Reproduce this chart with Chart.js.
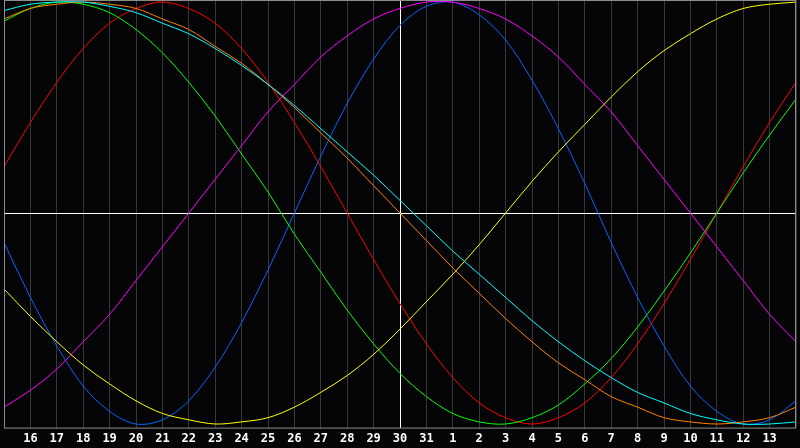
<!DOCTYPE html>
<html>
<head>
<meta charset="utf-8">
<script src="https://cdn.jsdelivr.net/npm/chart.js@4/dist/chart.umd.min.js"></script>
<style>
    body { margin: 0; background: #050508; }
    #wrap { width: 800px; height: 448px; }
</style>
</head>
<body>
<div id="wrap"><canvas id="bio" width="800" height="448"></canvas></div>
<script>
// Days shown on the chart (today = 30)
const days = [15, 16, 17, 18, 19, 20, 21, 22, 23, 24, 25, 26, 27, 28, 29, 30, 31,
    1, 2, 3, 4, 5, 6, 7, 8, 9, 10, 11, 12, 13, 14];
const today = 30;

// Cycle values, one per day (-1 .. 1)
const physical = [-0.14, -0.40, -0.63, -0.82, -0.94, -1.00, -0.98, -0.89, -0.73, -0.52, -0.27,
    0.00, 0.27, 0.52, 0.73, 0.89, 0.98, 1.00, 0.94, 0.82, 0.63, 0.40, 0.14,
    -0.14, -0.40, -0.63, -0.82, -0.94, -1.00, -0.98, -0.89];
const emotional = [0.22, 0.43, 0.62, 0.78, 0.90, 0.97, 1.00, 0.97, 0.90, 0.78, 0.62,
    0.43, 0.22, 0.00, -0.22, -0.43, -0.62, -0.78, -0.90, -0.97, -1.00, -0.97, -0.90,
    -0.78, -0.62, -0.43, -0.22, 0.00, 0.22, 0.43, 0.62];
const intellectual = [0.91, 0.97, 1.00, 0.99, 0.95, 0.87, 0.76, 0.62, 0.46, 0.28, 0.10,
    -0.10, -0.28, -0.46, -0.62, -0.76, -0.87, -0.95, -0.99, -1.00, -0.97, -0.91, -0.81,
    -0.69, -0.54, -0.37, -0.19, 0.00, 0.19, 0.37, 0.54];
const intuitive = [-0.92, -0.84, -0.74, -0.61, -0.48, -0.32, -0.16, 0.00, 0.16, 0.32, 0.48,
    0.61, 0.74, 0.84, 0.92, 0.97, 1.00, 1.00, 0.97, 0.92, 0.84, 0.74, 0.61,
    0.48, 0.32, 0.16, 0.00, -0.16, -0.32, -0.48, -0.61];
const aesthetic = [-0.36, -0.49, -0.61, -0.72, -0.81, -0.89, -0.95, -0.98, -1.00, -0.99, -0.97,
    -0.92, -0.85, -0.77, -0.67, -0.55, -0.42, -0.29, -0.15, 0.00, 0.15, 0.29, 0.42,
    0.55, 0.67, 0.77, 0.85, 0.92, 0.97, 0.99, 1.00];
const awareness = [0.92, 0.97, 0.99, 1.00, 0.99, 0.97, 0.92, 0.87, 0.79, 0.71, 0.61,
    0.50, 0.38, 0.26, 0.13, 0.00, -0.13, -0.26, -0.38, -0.50, -0.61, -0.71, -0.79,
    -0.87, -0.92, -0.97, -0.99, -1.00, -0.99, -0.97, -0.92];
const spiritual = [0.96, 0.99, 1.00, 1.00, 0.98, 0.95, 0.90, 0.85, 0.78, 0.70, 0.61,
    0.51, 0.40, 0.29, 0.18, 0.06, -0.06, -0.18, -0.29, -0.40, -0.51, -0.61, -0.70,
    -0.78, -0.85, -0.90, -0.95, -0.98, -1.00, -1.00, -0.99];

const todayIndex = days.indexOf(today);

// zero line + frame around the plot
const framePlugin = {
    id: 'frame',
    beforeDatasetsDraw(chart) {
        const { ctx, chartArea, scales } = chart;
        const y0 = Math.round(scales.y.getPixelForValue(0)) + 0.5;
        ctx.save();
        ctx.strokeStyle = '#ffffff';
        ctx.lineWidth = 1;
        ctx.beginPath();
        ctx.moveTo(chartArea.left, y0);
        ctx.lineTo(chartArea.right, y0);
        ctx.stroke();
        ctx.restore();
    },
    afterDraw(chart) {
        const { ctx, chartArea } = chart;
        ctx.save();
        ctx.strokeStyle = '#8c8c8c';
        ctx.lineWidth = 1;
        ctx.strokeRect(chartArea.left + 0.5, chartArea.top + 0.5,
            chartArea.right - chartArea.left - 1, chartArea.bottom - chartArea.top);
        ctx.restore();
    }
};

function line(data, color) {
    return {
        data: data,
        borderColor: color,
        borderWidth: 1,
        pointRadius: 0,
        tension: 0.33,
        fill: false
    };
}

new Chart(document.getElementById('bio'), {
    type: 'line',
    data: {
        labels: days,
        datasets: [
            line(spiritual, '#00ffff'),
            line(awareness, '#ff8000'),
            line(aesthetic, '#ffff00'),
            line(intuitive, '#ff00ff'),
            line(intellectual, '#00ff00'),
            line(emotional, '#ff0000'),
            line(physical, '#0066ff')
        ]
    },
    options: {
        responsive: false,
        animation: false,
        layout: { padding: { left: 0, right: 0, top: 0, bottom: -2 } },
        plugins: {
            legend: { display: false },
            tooltip: { enabled: false }
        },
        scales: {
            x: {
                offset: false,
                border: { display: false },
                grid: {
                    drawTicks: false,
                    color: ctx => ctx.index === todayIndex ? '#ffffff' : '#38383a'
                },
                ticks: {
                    autoSkip: false,
                    maxRotation: 0,
                    padding: 4,
                    color: '#ffffff',
                    font: { family: 'DejaVu Sans Mono', size: 12, weight: 'bold' },
                    callback: (val, i) => (i === 0 || i === days.length - 1) ? '' : days[i]
                }
            },
            y: {
                display: false,
                min: -1.017,
                max: 1.01
            }
        }
    },
    plugins: [framePlugin]
});
</script>
</body>
</html>
